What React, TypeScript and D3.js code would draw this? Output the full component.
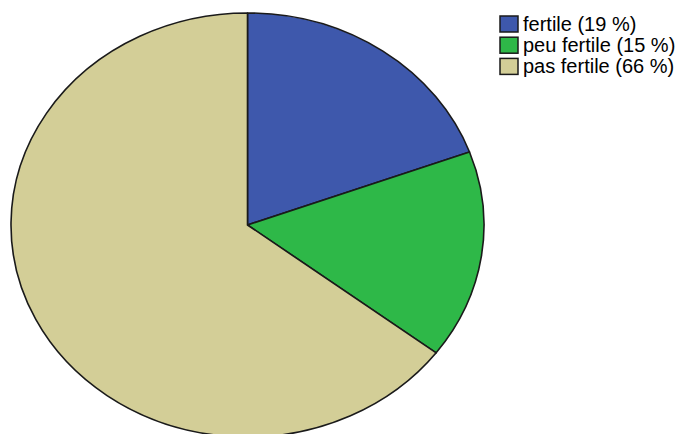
import React from "react";
import * as d3 from "d3";

const categories = ["fertile", "peu fertile", "pas fertile"];
const values = [19.4, 15.9, 64.7];
const legendLabels = ["fertile (19 %)", "peu fertile (15 %)", "pas fertile (66 %)"];
const colors = ["#3e58ac", "#2eb848", "#d3ce97"];

export default function App() {
  const W = 680, H = 434;
  const cx = 247.5, cy = 225, rx = 236.5, ry = 212;
  const pie = d3.pie<number>().sort(null).value((d) => d);
  const arcs = pie(values);
  const arc = d3.arc<d3.PieArcDatum<number>>().innerRadius(0).outerRadius(ry);
  return (
    <svg width={W} height={H} style={{ position: "absolute", left: 0, top: 0, background: "#fff" }}>
      <g transform={`translate(${cx},${cy}) scale(${rx / ry},1)`}>
        {arcs.map((a, i) => (
          <path
            key={categories[i]}
            d={arc(a) || ""}
            fill={colors[i]}
            stroke="#1a1a1a"
            strokeWidth={1.6}
            strokeLinejoin="round"
            vectorEffect="non-scaling-stroke"
          />
        ))}
      </g>
      <g fontFamily="Liberation Sans, Arial, sans-serif" fontSize={20} fill="#000">
        {legendLabels.map((t, i) => (
          <g key={t} transform={`translate(0,${i * 21.2})`}>
            <rect x={500} y={16} width={18} height={16} fill={colors[i]} stroke="#1a1a1a" strokeWidth={1.5} />
            <text x={523} y={31}>{t}</text>
          </g>
        ))}
      </g>
    </svg>
  );
}
